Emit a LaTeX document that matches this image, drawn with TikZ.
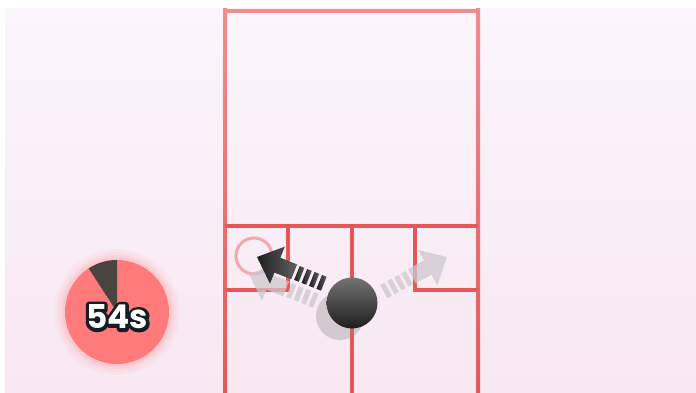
\documentclass[tikz,border=0pt]{standalone}
\usepackage{fontspec}
\usepackage{tikz}
\usetikzlibrary{positioning}
\newfontfamily\timerfont{Poppins}
\definecolor{bgtop}{RGB}{251,245,252}
\definecolor{bgbottom}{RGB}{248,232,242}
\definecolor{gridred}{RGB}{228,88,90}
\definecolor{gridpink}{RGB}{242,140,142}
\definecolor{timerred}{RGB}{255,122,122}
\definecolor{timerdark}{RGB}{74,68,64}
\definecolor{timerink}{RGB}{22,30,36}
\definecolor{ghostgray}{RGB}{205,200,205}

% stroked glyphs for the outline of the timer text
\newcommand{\outlined}[1]{%
  \special{pdf:literal direct 2 Tr 5.6 w 1 j 0.086 0.118 0.141 RG}#1\special{pdf:literal direct 0 Tr 1 w 0 j}}

% dashed-tail arrow, tip at the origin, pointing along +x
\newcommand{\tailarrow}[1]{%
  \shade[#1] (0,0) -- (-22,20) -- (-22,8) -- (-40,8) -- (-40,-8) -- (-22,-8) -- (-22,-20) -- cycle;
  \foreach \s in {43,51,59,67}
    \shade[#1] (-\s,7.5) rectangle (-\s-5,-7.5);
}

\begin{document}
\begin{tikzpicture}[x=0.03cm, y=-0.03cm,
    wall/.style={draw=gridred, line width=3pt},
    darkarrow/.style={left color=black!88, right color=black!62},
    ghostarrow/.style={left color=ghostgray, right color=ghostgray, opacity=0.75},
    timertext/.style={font=\timerfont\bfseries\fontsize{28}{30}\selectfont, inner sep=0pt}
  ]
    \useasboundingbox (0,0) rectangle (696,393);
    \fill[white] (0,0) rectangle (696,393);
    \shade[top color=bgtop, bottom color=bgbottom] (5,8) rectangle (696,393);

    % room outline
    \shade[top color=gridpink, bottom color=gridred] (223,8.5) rectangle (227,393);
    \shade[top color=gridpink, bottom color=gridred] (476,8.5) rectangle (480,393);
    \fill[gridpink] (223,8.5) rectangle (480,12.5);
    \draw[wall] (225,226) -- (478,226);
    \draw[wall] (225,290) -- (288,290) -- (288,226);
    \draw[wall] (478,290) -- (415,290) -- (415,226);
    \draw[wall] (352,226) -- (352,393);

    % target marker
    \draw[gridpink, line width=2.6pt, opacity=0.7] (254,256) circle[radius=18];

    % faded moves
    \begin{scope}[shift={(447,257)}, rotate=28.7]
      \tailarrow{ghostarrow}
    \end{scope}
    \begin{scope}[shift={(249,274)}, rotate=158.2]
      \tailarrow{ghostarrow}
    \end{scope}

    % ball
    \fill[gray, opacity=0.3] (340,316) circle[radius=24];
    \shade[top color=black!55, bottom color=black!88] (352,303) circle[radius=25.5];
    \coordinate (ball) at (352,303);

    % chosen move
    \begin{scope}[shift={(257,257)}, rotate=158.2]
      \tailarrow{darkarrow}
    \end{scope}

    % timer
    \foreach \r/\o in {63/0.05, 60/0.07, 57/0.09, 54.5/0.12}
      \fill[timerred, opacity=\o] (117,312) circle[radius=\r];
    \fill[timerred] (117,312) circle[radius=52];
    \fill[timerdark] (117,312) -- ++(237:52) arc[start angle=237, end angle=270, radius=52] -- cycle;
    \node[timertext, text=timerink] (timer) at (117,317) {\outlined{54s}};
    \node[timertext, text=white] at (timer.center) {54s};
  \end{tikzpicture}
\end{document}
